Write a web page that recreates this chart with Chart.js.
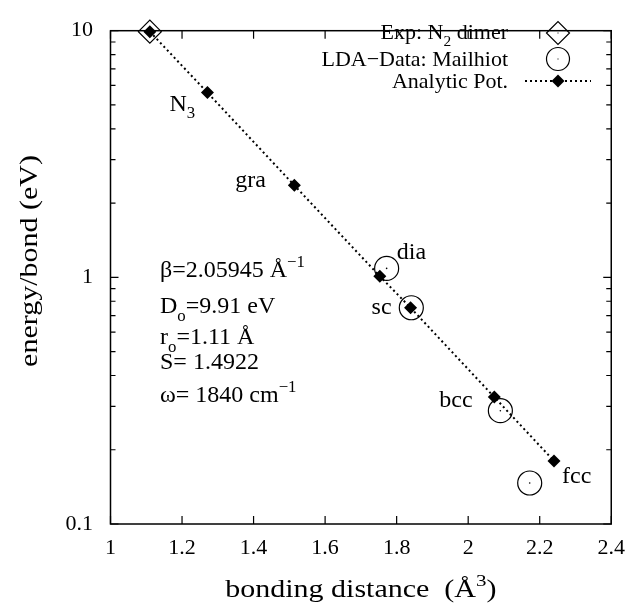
<!DOCTYPE html>
<html lang="en">
<head>
<meta charset="UTF-8">
<title>Energy per bond vs bonding distance</title>
<script src="https://cdn.jsdelivr.net/npm/chart.js"></script>
<style>
  html, body { margin: 0; padding: 0; background: #fff; }
  #wrap { width: 636px; height: 609px; }
  .probe { position: absolute; left: -9999px; top: 0; font-size: 22px; }
</style>
</head>
<body>
<span class="probe" style="font-family: 'Liberation Serif'">bonding 1.2 β ω Å</span>
<span class="probe" style="font-family: 'Times New Roman'">bonding 1.2 β ω Å</span>
<div id="wrap"><canvas id="chart" width="636" height="609"></canvas></div>
<script>
// data
const expX = [1.11];
const expY = [9.91];
const ldaX = [1.772, 1.841, 2.090, 2.172];
const ldaY = [1.087, 0.753, 0.288, 0.1466];
const analyticX = [1.11, 1.271, 1.514, 1.753, 1.839, 2.073, 2.240];
const analyticY = [9.91, 5.61, 2.36, 1.01, 0.753, 0.327, 0.180];
const phaseNames = ['', 'N3', 'gra', 'dia', 'sc', 'bcc', 'fcc'];
const xTicks = [1, 1.2, 1.4, 1.6, 1.8, 2, 2.2, 2.4];
const yTicks = [0.1, 1, 10];
const yMinor = [0.2, 0.3, 0.4, 0.5, 0.6, 0.7, 0.8, 0.9, 2, 3, 4, 5, 6, 7, 8, 9];

let SERIF = '"Liberation Serif", "Times New Roman", Tinos, serif';

function pts(xs, ys) {
    return xs.map((x, i) => ({ x: x, y: ys[i] }));
}

// pick a Times-like face that really exists (canvas falls back to DejaVu otherwise)
function pickSerif() {
    const c = document.createElement('canvas').getContext('2d');
    const sample = 'bonding distance 1.2345';
    c.font = '40px monospace';
    const mono = c.measureText(sample).width;
    c.font = '40px "DejaVu Serif"';
    const dv = c.measureText(sample).width;
    const names = ['Liberation Serif', 'Times New Roman', 'Times', 'Tinos', 'Nimbus Roman', 'FreeSerif'];
    for (const n of names) {
        c.font = '40px "' + n + '", monospace';
        const w = c.measureText(sample).width;
        if (Math.abs(w - mono) > 1 && Math.abs(w - dv) > 1) return '"' + n + '", serif';
    }
    return SERIF;
}

// draw text with sub/superscript parts: [text, 'n' | 'sub' | 'sup']
function rich(ctx, parts, x, y, size, align) {
    let total = 0;
    parts.forEach(p => {
        ctx.font = (p[1] === 'n' ? size : size * 0.7) + 'px ' + SERIF;
        total += ctx.measureText(p[0]).width;
    });
    let cx = align === 'right' ? x - total : (align === 'center' ? x - total / 2 : x);
    ctx.textAlign = 'left';
    ctx.textBaseline = 'alphabetic';
    parts.forEach(p => {
        const s = p[1] === 'n' ? size : size * 0.7;
        ctx.font = s + 'px ' + SERIF;
        let dy = 0;
        if (p[1] === 'sub') dy = size * 0.32;
        if (p[1] === 'sup') dy = -size * 0.42;
        ctx.fillText(p[0], cx, y + dy);
        cx += ctx.measureText(p[0]).width;
    });
}

function diamond(ctx, x, y, r, fill) {
    ctx.beginPath();
    ctx.moveTo(x - r, y);
    ctx.lineTo(x, y - r);
    ctx.lineTo(x + r, y);
    ctx.lineTo(x, y + r);
    ctx.closePath();
    if (fill) ctx.fill(); else ctx.stroke();
}

const extras = {
    id: 'extras',
    afterDraw(chart) {
        const ctx = chart.ctx;
        const a = chart.chartArea;
        const xs = chart.scales.x, ys = chart.scales.y;
        ctx.save();
        ctx.strokeStyle = '#000';
        ctx.fillStyle = '#000';

        // frame + inward ticks (mirrored)
        ctx.lineWidth = 1.5;
        ctx.strokeRect(a.left, a.top, a.right - a.left, a.bottom - a.top);
        ctx.lineWidth = 1.2;
        ctx.beginPath();
        xTicks.forEach(v => {
            const p = xs.getPixelForValue(v);
            ctx.moveTo(p, a.bottom); ctx.lineTo(p, a.bottom - 8);
            ctx.moveTo(p, a.top); ctx.lineTo(p, a.top + 8);
        });
        yTicks.forEach(v => {
            const p = ys.getPixelForValue(v);
            ctx.moveTo(a.left, p); ctx.lineTo(a.left + 8, p);
            ctx.moveTo(a.right, p); ctx.lineTo(a.right - 8, p);
        });
        yMinor.forEach(v => {
            const p = ys.getPixelForValue(v);
            ctx.moveTo(a.left, p); ctx.lineTo(a.left + 5, p);
            ctx.moveTo(a.right, p); ctx.lineTo(a.right - 5, p);
        });
        ctx.stroke();

        // axis titles (slightly wide lettering like the original)
        ctx.save();
        ctx.translate((a.left + a.right) / 2, 596.5);
        ctx.scale(1.2, 1);
        rich(ctx, [['bonding distance  (Å', 'n'], ['3', 'sup'], [')', 'n']], 0, 0, 25, 'center');
        ctx.restore();
        ctx.save();
        ctx.translate(36.5, 261);
        ctx.rotate(-Math.PI / 2);
        ctx.scale(1.2, 1);
        rich(ctx, [['energy/bond (eV)', 'n']], 0, 0, 25, 'center');
        ctx.restore();

        // phase labels next to the analytic points
        const offs = [null, [-38, 18], [-59, 2], [17, -17], [-39, 6], [-55, 10], [8, 22]];
        phaseNames.forEach((name, i) => {
            if (!offs[i]) return;
            const px = xs.getPixelForValue(analyticX[i]) + offs[i][0];
            const py = ys.getPixelForValue(analyticY[i]) + offs[i][1];
            if (name === 'N3') rich(ctx, [['N', 'n'], ['3', 'sub']], px, py, 24, 'left');
            else rich(ctx, [[name, 'n']], px, py, 24, 'left');
        });

        // fit parameters
        rich(ctx, [['β=2.05945 Å', 'n'], ['−1', 'sup']], 160, 277, 24, 'left');
        rich(ctx, [['D', 'n'], ['o', 'sub'], ['=9.91 eV', 'n']], 160, 313, 24, 'left');
        rich(ctx, [['r', 'n'], ['o', 'sub'], ['=1.11 Å', 'n']], 160, 344, 24, 'left');
        rich(ctx, [['S= 1.4922', 'n']], 160, 369, 24, 'left');
        rich(ctx, [['ω= 1840 cm', 'n'], ['−1', 'sup']], 160, 402, 24, 'left');

        // key
        rich(ctx, [['Exp: N', 'n'], ['2', 'sub'], [' dimer', 'n']], 508, 39, 22, 'right');
        rich(ctx, [['LDA−Data: Mailhiot', 'n']], 508, 65.5, 22, 'right');
        rich(ctx, [['Analytic Pot.', 'n']], 508, 87.5, 22, 'right');
        ctx.lineWidth = 1.2;
        diamond(ctx, 558, 33, 11.5, false);
        ctx.fillRect(557.5, 32.5, 1, 1);
        ctx.beginPath();
        ctx.arc(558, 59, 11.5, 0, Math.PI * 2);
        ctx.stroke();
        ctx.fillRect(557.5, 58.5, 1, 1);
        ctx.lineWidth = 2;
        ctx.setLineDash([2, 3]);
        ctx.beginPath();
        ctx.moveTo(525, 81); ctx.lineTo(591, 81);
        ctx.stroke();
        ctx.setLineDash([]);
        diamond(ctx, 558, 81, 6.5, true);

        ctx.restore();
    }
};

function draw() {
    SERIF = pickSerif();
    new Chart(document.getElementById('chart'), {
        type: 'scatter',
        data: {
            datasets: [
                {
                    label: 'Analytic Pot.',
                    data: pts(analyticX, analyticY),
                    showLine: true,
                    borderColor: '#000',
                    borderWidth: 2,
                    borderDash: [2, 3],
                    pointStyle: 'rectRot',
                    pointRadius: 6.5,
                    pointBackgroundColor: '#000',
                    pointBorderColor: '#000',
                    pointBorderWidth: 0,
                    order: 0,
                    clip: false
                },
                {
                    label: 'LDA−Data: Mailhiot',
                    data: pts(ldaX, ldaY),
                    pointStyle: 'circle',
                    pointRadius: 12,
                    pointBackgroundColor: 'rgba(0,0,0,0)',
                    pointBorderColor: '#000',
                    pointBorderWidth: 1.2,
                    order: 1,
                    clip: false
                },
                {
                    label: 'centres',
                    data: pts(ldaX, ldaY),
                    pointStyle: 'circle',
                    pointRadius: 0.8,
                    pointBackgroundColor: '#000',
                    pointBorderWidth: 0,
                    order: 1,
                    clip: false
                },
                {
                    label: 'Exp: N2 dimer',
                    data: pts(expX, expY),
                    pointStyle: 'rectRot',
                    pointRadius: 11.5,
                    pointBackgroundColor: '#fff',
                    pointBorderColor: '#000',
                    pointBorderWidth: 1.2,
                    order: 2,
                    clip: false
                }
            ]
        },
        options: {
            responsive: false,
            animation: false,
            layout: { padding: { top: 14, right: 17, left: 0, bottom: 0 } },
            plugins: { legend: { display: false }, tooltip: { enabled: false } },
            scales: {
                x: {
                    type: 'linear',
                    min: 1,
                    max: 2.4,
                    grid: { display: false, drawTicks: false },
                    border: { display: false },
                    afterBuildTicks: s => { s.ticks = xTicks.map(v => ({ value: v })); },
                    afterFit: s => { s.height = 85; },
                    ticks: {
                        color: '#000',
                        padding: 11,
                        maxRotation: 0,
                        font: { family: SERIF, size: 22 },
                        callback: v => String(v)
                    }
                },
                y: {
                    type: 'logarithmic',
                    min: 0.1,
                    max: 10,
                    grid: { display: false, drawTicks: false },
                    border: { display: false },
                    afterBuildTicks: s => { s.ticks = yTicks.map(v => ({ value: v })); },
                    afterFit: s => { s.width = 110.5; },
                    ticks: {
                        color: '#000',
                        padding: 17.5,
                        font: { family: SERIF, size: 22 },
                        callback: v => String(v)
                    }
                }
            }
        },
        plugins: [extras]
    });
}

if (document.fonts && document.fonts.load) {
    Promise.all([
        document.fonts.load('22px "Liberation Serif"'),
        document.fonts.load('22px "Times New Roman"')
    ]).catch(() => {}).then(() => document.fonts.ready).then(draw);
} else {
    draw();
}
</script>
</body>
</html>
